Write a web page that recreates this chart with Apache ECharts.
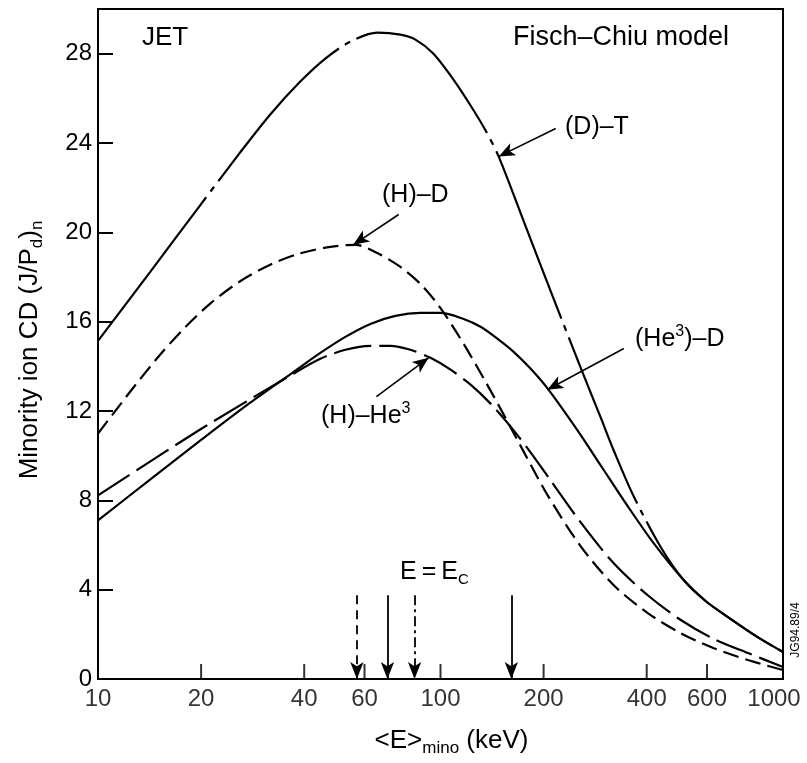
<!DOCTYPE html>
<html>
<head>
<meta charset="utf-8">
<script src="https://cdn.jsdelivr.net/npm/echarts@6/dist/echarts.min.js"></script>
<style>html,body{margin:0;padding:0;background:#fff}#c{width:807px;height:763px}</style>
</head>
<body>
<div id="c"></div>
<script>
// ---------------- data ----------------
const dtX = [10, 14.19, 19.87, 26.01, 31.84, 38.96, 46.1, 54.6, 65.4, 76.4, 84.5, 95.4, 109.1, 122.4, 135.4, 147.8, 174.9, 214.0, 256.7, 293.7, 320.5, 366.7, 439.8, 513.4, 595.5, 690.7, 833.9, 1000];
const dtY = [15.14, 18.22, 21.21, 23.58, 25.28, 26.75, 27.78, 28.54, 28.94, 28.85, 28.63, 28.0, 26.84, 25.68, 24.56, 23.40, 20.50, 17.02, 13.93, 11.70, 10.23, 8.17, 5.90, 4.42, 3.48, 2.77, 1.92, 1.21];

const hdX = [10, 12.41, 15.18, 17.97, 21.26, 26.0, 31.84, 38.96, 47.7, 56.4, 65.4, 76.4, 87.4, 100, 116.8, 135.4, 157.0, 174.9, 205.6, 256.7, 320.5, 402.9, 503.2, 628.4, 790.0, 1000];
const hdY = [10.99, 12.86, 14.52, 15.75, 16.81, 17.81, 18.55, 19.06, 19.35, 19.44, 19.07, 18.45, 17.69, 16.61, 15.01, 13.31, 11.52, 10.18, 8.22, 5.94, 4.20, 2.95, 2.05, 1.38, 0.85, 0.40];

const he3dX = [10, 14.19, 19.87, 27.82, 36.93, 44.58, 52.75, 62.4, 73.86, 87.4, 100, 116.8, 130.9, 146.8, 163.5, 183.4, 205.6, 251.5, 293.7, 352.3, 419.6, 513.4, 595.5, 690.7, 833.9, 1000];
const he3dY = [7.10, 8.93, 10.67, 12.37, 13.71, 14.60, 15.32, 15.90, 16.26, 16.39, 16.39, 16.12, 15.77, 15.23, 14.65, 13.89, 13.0, 11.12, 9.56, 7.73, 6.07, 4.42, 3.48, 2.77, 1.92, 1.21];

const hhe3X = [10, 19.87, 37.18, 44.58, 52.75, 62.4, 71.4, 81.7, 93.5, 107.0, 122.4, 140.0, 160.2, 183.4, 209.7, 256.7, 320.5, 402.9, 503.2, 628.4, 790.0, 1000];
const hhe3Y = [8.22, 11.17, 13.67, 14.34, 14.74, 14.92, 14.92, 14.74, 14.38, 13.85, 13.18, 12.33, 11.30, 10.14, 8.89, 7.01, 5.18, 3.75, 2.64, 1.79, 1.16, 0.54];

// E = Ec markers (keV) and arrow height
const ecX = [57, 70, 84, 161];
const ecTop = 3.75;

// x tick positions / labels
const xTickVals = [20, 40, 60, 100, 200, 400, 600];
const xLabelVals = [10, 20, 40, 60, 100, 200, 400, 600, 1000];

// annotation arrows: [fromX, fromY, toX, toY]
const arrDT = [217, 24.65, 148, 23.4];
const arrHD = [75.5, 20.8, 55.6, 19.44];
const arrHe3D = [343, 14.8, 205, 12.95];
const arrHHe3 = [65, 12.64, 92.3, 14.38];

// ---------------- chart ----------------
const FONT = '"Liberation Sans", Arial, Helvetica, sans-serif';
const pairs = (xs, ys) => xs.map((x, i) => [x, ys[i]]);
const BLACK = '#000';

function arrowLine(a) {
  return {
    silent: true,
    symbol: ['none', 'arrow'],
    symbolSize: [10, 16],
    label: { show: false },
    lineStyle: { color: BLACK, width: 1.6, type: 'solid' },
    emphasis: { disabled: true },
    data: [[{ coord: [a[0], a[1]] }, { coord: [a[2], a[3]] }]]
  };
}

const lineBase = (name, data, type) => ({
  name, type: 'line', data, showSymbol: false, smooth: 0.3, silent: true,
  lineStyle: { color: BLACK, width: 2.2, type: type },
  emphasis: { disabled: true }
});

const ecStyles = [[9, 6], 'solid', [10, 4, 3, 4], 'solid'];

const chart = echarts.init(document.getElementById('c'), null, { renderer: 'canvas' });
const option = {
  animation: false,
  backgroundColor: '#fff',
  grid: { left: 98, right: 24, top: 9, bottom: 84, show: true, borderColor: BLACK, borderWidth: 2, outerBoundsMode: 'none' },
  xAxis: {
    type: 'log', logBase: 10, min: 10, max: 1000,
    axisLine: { show: true, lineStyle: { color: BLACK, width: 2 } },
    axisTick: { show: false }, axisLabel: { show: false },
    splitLine: { show: false }, minorTick: { show: false },
    name: '<E>{sub|mino} (keV)', nameLocation: 'middle', nameGap: 46,
    nameTextStyle: {
      color: BLACK, fontFamily: FONT, fontSize: 26, lineHeight: 32, padding: [0, 0, 0, 22],
      rich: { sub: { fontSize: 17, fontFamily: FONT, color: BLACK, verticalAlign: 'bottom', lineHeight: 17 } }
    }
  },
  yAxis: {
    type: 'value', min: 0, max: 30, interval: 4,
    axisLine: { show: true, lineStyle: { color: BLACK, width: 2 } },
    axisTick: { show: true, inside: true, length: 15, lineStyle: { color: BLACK, width: 2 } },
    axisLabel: { color: BLACK, fontFamily: FONT, fontSize: 24, margin: 6, formatter: v => (v < 30 ? String(v) : '') },
    splitLine: { show: false },
    name: 'Minority ion CD (J/P{sub|d}){sub|n}', nameLocation: 'middle', nameGap: 52, nameRotate: 90,
    nameTextStyle: {
      color: BLACK, fontFamily: FONT, fontSize: 26, lineHeight: 32, padding: [0, 12, 0, 0],
      rich: { sub: { fontSize: 17, fontFamily: FONT, color: BLACK, verticalAlign: 'bottom', lineHeight: 17 } }
    }
  },
  series: [
    Object.assign(lineBase('(D)–T', pairs(dtX, dtY), [180, 7, 6, 7]), { markLine: arrowLine(arrDT) }),
    Object.assign(lineBase('(H)–D', pairs(hdX, hdY), [16, 7]), { markLine: arrowLine(arrHD) }),
    Object.assign(lineBase('(He3)–D', pairs(he3dX, he3dY), 'solid'), { markLine: arrowLine(arrHe3D) }),
    Object.assign(lineBase('(H)–He3', pairs(hhe3X, hhe3Y), [38, 8]), { markLine: arrowLine(arrHHe3) }),
    {
      name: 'ticks', type: 'scatter', silent: true,
      data: xTickVals.map(v => [v, 0]),
      symbol: 'rect', symbolSize: [2, 15], symbolOffset: [0, -7.5],
      itemStyle: { color: BLACK },
      emphasis: { disabled: true },
      markLine: {
        silent: true, symbol: ['none', 'arrow'], symbolSize: [10, 17],
        label: { show: false }, emphasis: { disabled: true },
        data: ecX.map((x, i) => [
          { coord: [x, ecTop], lineStyle: { color: BLACK, width: 1.8, type: ecStyles[i] } },
          { coord: [x, 0] }
        ])
      }
    },
    {
      name: 'labels', type: 'scatter', silent: true,
      data: xLabelVals.map(v => v === 1000 ? { value: [v, 0], label: { offset: [-9, 0] } } : { value: [v, 0] }),
      symbolSize: 1, itemStyle: { color: 'rgba(0,0,0,0)' },
      emphasis: { disabled: true },
      label: { show: true, position: 'bottom', distance: 8, color: BLACK, fontFamily: FONT, fontSize: 24,
        formatter: p => String(p.value[0]) }
    }
  ],
  graphic: [
    { type: 'text', x: 142, y: 38, silent: true,
      style: { text: 'JET', fontFamily: FONT, fontSize: 26, fill: BLACK, align: 'left', verticalAlign: 'middle' } },
    { type: 'text', x: 513, y: 38, silent: true,
      style: { text: 'Fisch–Chiu model', fontFamily: FONT, fontSize: 27, fill: BLACK, align: 'left', verticalAlign: 'middle' } },
    { type: 'text', x: 565, y: 127, silent: true,
      style: { text: '(D)–T', fontFamily: FONT, fontSize: 25, fill: BLACK, align: 'left', verticalAlign: 'middle' } },
    { type: 'text', x: 382, y: 195, silent: true,
      style: { text: '(H)–D', fontFamily: FONT, fontSize: 25, fill: BLACK, align: 'left', verticalAlign: 'middle' } },
    { type: 'text', x: 635, y: 339, silent: true,
      style: { text: '(He{sup|3})–D', fontFamily: FONT, fontSize: 25, lineHeight: 30, fill: BLACK, align: 'left', verticalAlign: 'middle',
        rich: { sup: { fontSize: 16, fontFamily: FONT, fill: BLACK, verticalAlign: 'top', lineHeight: 16 } } } },
    { type: 'text', x: 321, y: 416, silent: true,
      style: { text: '(H)–He{sup|3}', fontFamily: FONT, fontSize: 25, lineHeight: 30, fill: BLACK, align: 'left', verticalAlign: 'middle',
        rich: { sup: { fontSize: 16, fontFamily: FONT, fill: BLACK, verticalAlign: 'top', lineHeight: 16 } } } },
    { type: 'text', x: 400, y: 572, silent: true,
      style: { text: 'E\u2009=\u2009E{sub|C}', fontFamily: FONT, fontSize: 25, lineHeight: 30, fill: BLACK, align: 'left', verticalAlign: 'middle',
        rich: { sub: { fontSize: 15, fontFamily: FONT, fill: BLACK, verticalAlign: 'bottom', lineHeight: 15 } } } },
    { type: 'text', x: 796, y: 630, rotation: Math.PI / 2, silent: true,
      style: { text: 'JG94.89/4', fontFamily: FONT, fontSize: 12, fill: BLACK, align: 'center', verticalAlign: 'middle' } }
  ]
};
chart.setOption(option);
</script>
</body>
</html>
